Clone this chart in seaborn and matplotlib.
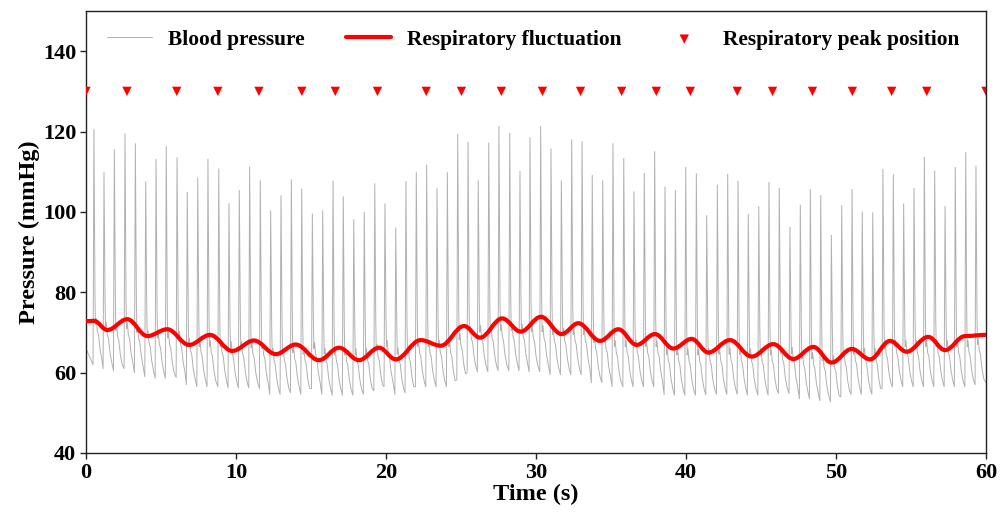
import numpy as np
import pandas as pd
import matplotlib
matplotlib.use("Agg")
import matplotlib.pyplot as plt
from matplotlib.path import Path
from matplotlib.patches import PathPatch
from matplotlib.lines import Line2D
import seaborn as sns

# ---------------- data ----------------
# heart-beat systolic peak times (s)
beat_t = [0.53, 1.20, 1.89, 2.60, 3.29, 3.98, 4.67, 5.35, 6.07, 6.75, 7.45, 8.13, 8.85, 9.53,
          10.22, 10.91, 11.62, 12.31, 13.00, 13.69, 14.38, 15.09, 15.78, 16.47, 17.15, 17.85,
          18.55, 19.25, 19.93, 20.65, 21.33, 22.02, 22.71, 23.40, 24.09, 24.78, 25.47, 26.15,
          26.85, 27.53, 28.25, 28.93, 29.60, 30.31, 31.00, 31.69, 32.38, 33.07, 33.75, 34.45,
          35.13, 35.85, 36.53, 37.22, 37.91, 38.60, 39.29, 39.98, 40.69, 41.38, 42.09, 42.78,
          43.47, 44.15, 44.85, 45.53, 46.22, 46.93, 47.62, 48.29, 48.98, 49.69, 50.38, 51.07,
          51.75, 52.45, 53.13, 53.82, 54.51, 55.20, 55.89, 56.58, 57.27, 57.95, 58.65, 59.33]
# systolic peak values (mmHg)
sys_peak = [120.5, 109.8, 115.5, 119.5, 117.0, 107.5, 113.1, 116.4, 113.5, 104.9, 108.5, 113.1,
            110.7, 102.1, 105.4, 111.2, 107.9, 100.3, 104.0, 108.0, 105.7,
            99.5, 100.3, 107.7, 103.8, 98.1, 99.9, 107.0, 102.0, 96.0, 107.6, 109.9, 111.7,
            105.8, 109.8, 119.4, 117.4, 107.8, 117.2, 121.3, 119.6, 110.1,
            118.5, 121.3, 115.7, 107.8, 118.0, 117.5, 109.1, 107.8, 117.0, 113.3, 105.0, 109.6,
            115.0, 106.2, 105.4, 111.1, 109.5, 99.1, 106.7, 109.4, 107.7, 99.4,
            101.4, 107.4, 105.9, 96.2, 101.7, 105.6, 104.1, 94.2, 101.6, 105.6, 100.0, 99.8,
            110.6, 109.3, 102.0, 105.9, 113.6, 110.2, 101.4, 111.1, 114.8, 111.4]
# diastolic trough value before each beat (mmHg)
dia_trough = [62.0, 61.0, 60.5, 61.0, 60.0, 59.0, 58.6, 58.6, 58.8, 57.0, 56.5, 56.5, 56.5, 56.2,
              56.2, 56.2, 56.0, 54.6, 54.6, 55.0, 54.6, 56.0, 54.6, 54.4, 54.4, 54.4, 54.6, 55.5,
              56.5, 54.6, 55.0, 56.5, 56.5, 56.5, 56.5, 58.2, 60.0, 60.2, 60.2, 60.5, 60.5, 60.5,
              60.2, 60.2, 59.5, 59.5, 59.5, 59.5, 57.5, 57.5, 56.5, 56.5, 56.5, 56.5, 56.5, 54.5,
              54.4, 54.4, 54.4, 54.5, 54.6, 54.6, 54.6, 54.4, 54.4, 54.4, 54.8, 54.8, 53.5, 53.5,
              53.0, 52.7, 54.0, 54.6, 54.6, 54.6, 56.0, 56.5, 56.5, 56.5, 56.5, 56.5, 56.5, 56.5,
              56.5, 57.0]
# pulse shape after each peak: time after peak (s) and height above the trough (mmHg)
shape_dt = [0.07, 0.10, 0.15, 0.22, 0.30, 0.40, 0.52]
shape_dv = [17.0, 10.0, 11.5, 8.5, 7.5, 4.0, 1.5]
bp_start = 66.0
bp_end = 57.5

# respiratory fluctuation: extrema (s, mmHg)
resp_t = [0.0, 0.53, 1.42, 2.75, 4.09, 5.42, 6.87, 8.27, 9.75, 11.2, 12.65, 13.98, 15.53, 16.87,
          18.2, 19.53, 20.65, 22.31, 23.65, 25.2, 26.27, 27.75, 28.98, 30.33, 31.71, 32.82,
          34.27, 35.49, 36.71, 37.93, 39.15, 40.38, 41.49, 42.93, 44.38, 45.82, 47.15, 48.49,
          49.71, 51.05, 52.27, 53.6, 54.71, 56.15, 57.27, 58.6, 60.0]
resp_v = [72.8, 72.9, 70.6, 73.3, 69.1, 70.8, 66.9, 69.4, 65.4, 68.0, 64.6, 67.0, 63.1, 66.2,
          63.1, 66.2, 63.3, 68.1, 66.7, 71.6, 68.7, 73.5, 70.2, 73.9, 69.6, 72.3,
          67.9, 70.8, 66.9, 69.6, 66.0, 68.4, 65.0, 68.1, 64.0, 67.1, 63.4, 66.4,
          62.5, 65.9, 63.3, 67.9, 65.2, 68.9, 65.6, 69.1, 69.4]

# respiratory peak positions (s)
peak_pos = [0.0, 2.73, 6.05, 8.79, 11.53, 14.39, 16.62, 19.43, 22.68, 25.03, 27.69, 30.43,
            32.97, 35.71, 38.02, 40.29, 43.42, 45.77, 48.43, 51.09, 53.71, 56.05, 60.0]
peak_level = 130

# ---------------- build the blood pressure polyline ----------------
bt, bv = [0.0], [bp_start]
for t, p, d in zip(beat_t, sys_peak, dia_trough):
    bt.append(t - 0.06); bv.append(d)
    bt.append(t); bv.append(p)
    for dt, dv in zip(shape_dt, shape_dv):
        bt.append(t + dt); bv.append(d + dv)
bt.append(60.0); bv.append(bp_end)
bp = pd.DataFrame({"Time": bt, "Pressure": bv})
bp = bp[bp["Time"] <= 60.0]

peaks = pd.DataFrame({"Time": peak_pos, "Pressure": [peak_level] * len(peak_pos)})

# ---------------- style ----------------
sns.set_style("ticks")
plt.rcParams["font.family"] = ["Liberation Serif", "DejaVu Serif"]
plt.rcParams["font.weight"] = "bold"
plt.rcParams["text.color"] = "black"
plt.rcParams["axes.labelcolor"] = "black"
plt.rcParams["xtick.color"] = "black"
plt.rcParams["ytick.color"] = "black"

fig = plt.figure(figsize=(10.06, 5.12), dpi=100)
ax = fig.add_axes([86 / 1006, 59 / 512, 900 / 1006, 442 / 512])

sns.lineplot(data=bp, x="Time", y="Pressure", ax=ax, color="#b0b0b0", linewidth=0.7,
             sort=False, estimator=None, label="Blood pressure", zorder=2)

# smooth respiratory curve through the read extrema (horizontal tangents)
verts = [(resp_t[0], resp_v[0])]
codes = [Path.MOVETO]
for i in range(1, len(resp_t)):
    t0, v0, t1, v1 = resp_t[i - 1], resp_v[i - 1], resp_t[i], resp_v[i]
    h = 0.36 * (t1 - t0)
    verts += [(t0 + h, v0), (t1 - h, v1), (t1, v1)]
    codes += [Path.CURVE4, Path.CURVE4, Path.CURVE4]
ax.add_patch(PathPatch(Path(verts, codes), fill=False, edgecolor="#ff0000", linewidth=3.0,
                       capstyle="round", joinstyle="round", zorder=3))

sns.scatterplot(data=peaks, x="Time", y="Pressure", ax=ax, marker="v", s=45, color="#ff0000",
                edgecolor="none", label="Respiratory peak position", zorder=4)

ax.set_xlim(0, 60)
ax.set_ylim(40, 150)
ax.set_xticks([0, 10, 20, 30, 40, 50, 60])
ax.set_yticks([40, 60, 80, 100, 120, 140])
ax.tick_params(axis="both", direction="out", length=4, width=1, labelsize=16, pad=3,
               color="#222222", labelcolor="black")
for lab in ax.get_xticklabels() + ax.get_yticklabels():
    lab.set_fontweight("bold")
for sp in ax.spines.values():
    sp.set_visible(True)
    sp.set_color("#222222")
    sp.set_linewidth(1.0)

ax.set_xlabel("Time (s)", fontsize=17.5, fontweight="bold", labelpad=1, color="black")
ax.set_ylabel("Pressure (mmHg)", fontsize=17.5, fontweight="bold", labelpad=2, color="black")

h, l = ax.get_legend_handles_labels()
red_proxy = Line2D([], [], color="#ff0000", linewidth=3.0)
handles = [h[0], red_proxy, h[1]]
labels = ["Blood pressure", "Respiratory fluctuation", "Respiratory peak position"]
ax.legend(handles, labels, loc="center", bbox_to_anchor=(0.497, 0.935), ncol=3, frameon=False,
          prop={"family": "Liberation Serif", "weight": "bold", "size": 15.4},
          handlelength=2.1, handletextpad=0.75, columnspacing=1.9, labelcolor="black")

fig.savefig("out.png", dpi=100)
